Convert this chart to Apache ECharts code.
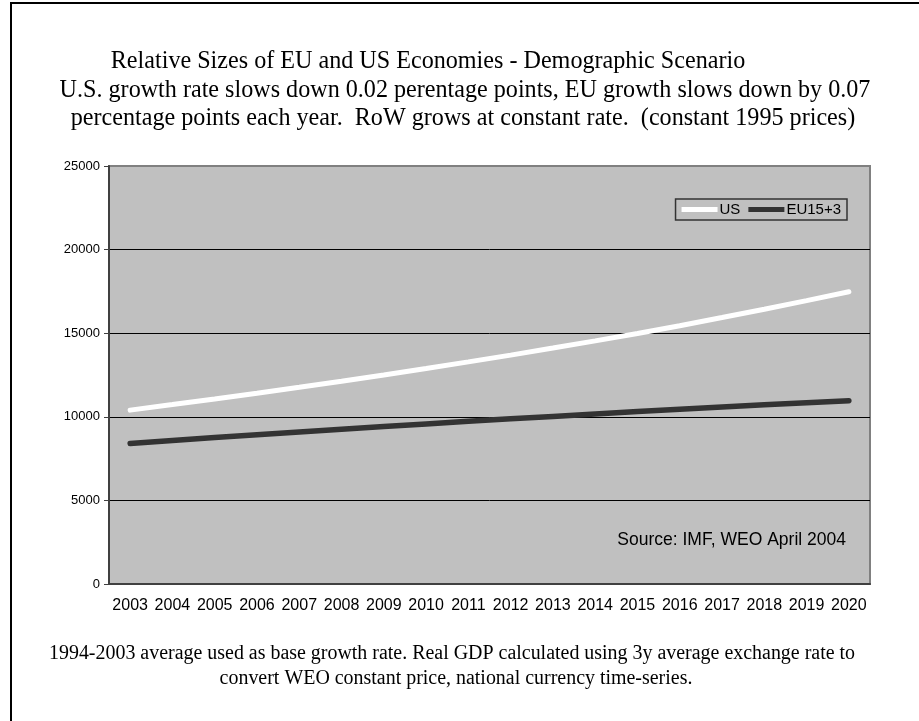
<!DOCTYPE html>
<html>
<head>
<meta charset="utf-8">
<script src="https://cdn.jsdelivr.net/npm/echarts@6/dist/echarts.min.js"></script>
<style>
  html, body { margin: 0; padding: 0; background: #fff; }
  #chart { width: 919px; height: 721px; }
</style>
</head>
<body>
<div id="chart"></div>
<script>
// data (real GDP, constant 1995 prices)
var years = ['2003', '2004', '2005', '2006', '2007', '2008', '2009', '2010', '2011',
  '2012', '2013', '2014', '2015', '2016', '2017', '2018', '2019', '2020'];
var usGdp = [10400, 10730, 11065, 11410, 11765, 12130, 12505, 12890, 13285,
  13690, 14110, 14540, 14985, 15450, 15935, 16430, 16950, 17480];
var euGdp = [8400, 8580, 8755, 8925, 9095, 9260, 9420, 9575, 9730,
  9880, 10025, 10170, 10310, 10450, 10585, 10715, 10845, 10965];
var seriesNames = ['US', 'EU15+3'];

var titleLines = [
  'Relative Sizes of EU and US Economies - Demographic Scenario',
  'U.S. growth rate slows down 0.02 perentage points, EU growth slows down by 0.07',
  'percentage points each year.  RoW grows at constant rate.  (constant 1995 prices)'
];
var noteLines = [
  '1994-2003 average used as base growth rate. Real GDP calculated using 3y average exchange rate to',
  'convert WEO constant price, national currency time-series.'
];
var sourceText = 'Source: IMF, WEO April 2004';

var serif = 'Liberation Serif';
var sans = 'Liberation Sans';

// pick a font size so a line of text spans the wanted width
var measureCtx = document.createElement('canvas').getContext('2d');
function fitSize(text, family, width) {
  measureCtx.font = '100px "' + family + '"';
  return 100 * width / measureCtx.measureText(text).width;
}

function textItem(t, x, baseline, size, family, align) {
  return {
    type: 'text',
    x: x,
    y: baseline - 0.33 * size,
    z: 10,
    style: {
      text: t,
      font: size.toFixed(2) + 'px "' + family + '"',
      fill: '#000',
      align: align || 'center',
      verticalAlign: 'middle'
    }
  };
}

// title: one size for all three lines, taken from the third line
var titleSize = fitSize(titleLines[2], serif, 785);
var noteSize = fitSize(noteLines[0], serif, 806);

var graphics = [{
  type: 'rect',
  shape: { x: 11, y: 3, width: 1000, height: 1000 },
  style: { fill: 'none', stroke: '#000', lineWidth: 2 },
  silent: true
}];
graphics.push(textItem(titleLines[0], 428, 70, titleSize, serif));
graphics.push(textItem(titleLines[1], 465, 99, titleSize, serif));
graphics.push(textItem(titleLines[2], 463, 127, titleSize, serif));
graphics.push(textItem(noteLines[0], 452, 660, noteSize, serif));
graphics.push(textItem(noteLines[1], 456, 685, noteSize, serif));
graphics.push(textItem(sourceText, 846, 546, fitSize(sourceText, sans, 229), sans, 'right'));

var chart = echarts.init(document.getElementById('chart'));
var option = {
  animation: false,
  backgroundColor: '#fff',
  graphic: graphics,
  grid: {
    left: 109, right: 49, top: 166, bottom: 137,
    show: true,
    backgroundColor: '#c0c0c0',
    borderColor: '#808080',
    borderWidth: 2
  },
  legend: {
    right: 72,
    top: 199,
    icon: 'rect',
    itemWidth: 36,
    itemHeight: 5,
    itemGap: 8,
    padding: [3, 6, 3, 6],
    backgroundColor: '#c0c0c0',
    borderColor: '#333',
    borderWidth: 1.5,
    textStyle: { fontFamily: sans, fontSize: 15, color: '#000', padding: [0, 0, 0, -3] },
    data: seriesNames
  },
  xAxis: {
    type: 'category',
    data: years,
    boundaryGap: true,
    axisLine: { lineStyle: { color: '#404040', width: 2 } },
    axisTick: { length: 5, lineStyle: { color: '#404040' } },
    axisLabel: { fontFamily: sans, fontSize: 16, color: '#000', margin: 14, interval: 0 }
  },
  yAxis: {
    type: 'value',
    min: 0,
    max: 25000,
    interval: 5000,
    axisLine: { show: true, lineStyle: { color: '#404040', width: 2 } },
    axisTick: { show: true, length: 5, lineStyle: { color: '#404040' } },
    axisLabel: {
      fontFamily: sans, fontSize: 13, color: '#000', margin: 9,
      formatter: function (v) { return String(v); }
    },
    splitLine: { lineStyle: { color: ['#000', '#000', '#000', '#000', '#000', '#808080'], width: 1 } }
  },
  series: [
    {
      name: seriesNames[0],
      type: 'line',
      data: usGdp,
      symbol: 'none',
      itemStyle: { color: '#ffffff' },
      lineStyle: { color: '#ffffff', width: 5, cap: 'round' },
      z: 3
    },
    {
      name: seriesNames[1],
      type: 'line',
      data: euGdp,
      symbol: 'none',
      itemStyle: { color: '#333333' },
      lineStyle: { color: '#333333', width: 5.5, cap: 'round' },
      z: 3
    }
  ]
};
chart.setOption(option);
</script>
</body>
</html>
